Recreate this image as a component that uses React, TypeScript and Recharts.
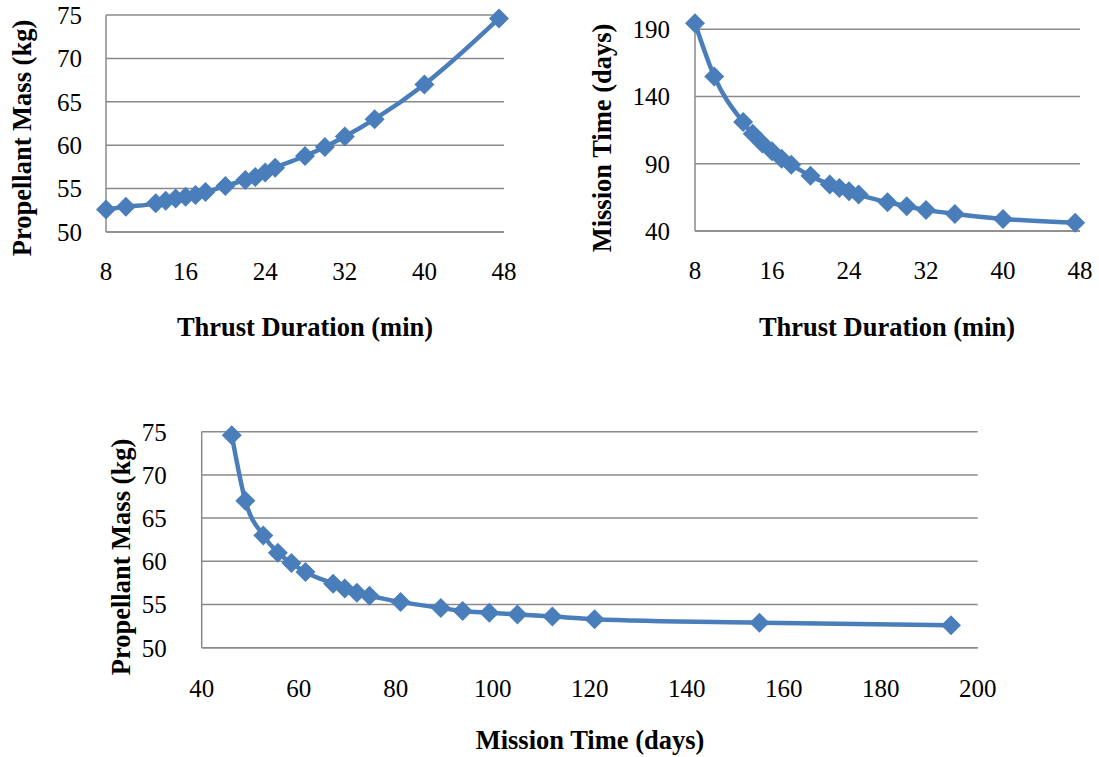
import { LineChart, Line, XAxis, YAxis, CartesianGrid } from 'recharts';

// values (thrust duration, propellant mass, mission time)
const thrustMin = [8, 10, 13, 14, 15, 16, 17, 18, 20, 22, 23, 24, 25, 28, 30, 32, 35, 40, 47.5];
const propellantKg = [
  52.6, 52.9, 53.3, 53.6, 53.85, 54.05, 54.25, 54.6, 55.3, 56.0, 56.35, 56.85, 57.4, 58.75,
  59.8, 61.0, 63.0, 67.0, 74.6,
];
const missionDays = [
  194.5, 155, 121, 112.3, 105.1, 99.3, 93.8, 89.3, 81, 74.6, 72, 69.5, 67.1, 61.4, 58.5, 55.7,
  52.7, 49, 46.2,
];

const thrustTicks = [8, 16, 24, 32, 40, 48];
const massTicks = [50, 55, 60, 65, 70, 75];
const daysTicksY = [40, 90, 140, 190];
const daysTicksX = [40, 60, 80, 100, 120, 140, 160, 180, 200];

const rows = thrustMin.map((t, i) => ({
  thrust: t,
  mass: propellantKg[i],
  days: missionDays[i],
}));
// mission time runs downwards as thrust grows, so sort for the third panel
const rowsByDays = [...rows].sort((a, b) => a.days - b.days);

const BLUE = '#4A7EBB';
const GRID = '#8a8a8a';
const FONT = '"Liberation Serif", "Times New Roman", serif';

function Diamond(props: any) {
  const { cx, cy, index } = props;
  if (cx == null || cy == null) return null;
  const r = 10;
  return (
    <path
      key={`dm-${index}`}
      d={`M${cx},${cy - r}L${cx + r},${cy}L${cx},${cy + r}L${cx - r},${cy}Z`}
      fill={BLUE}
    />
  );
}

interface PanelProps {
  data: any[];
  xKey: string;
  yKey: string;
  xDomain: [number, number];
  yDomain: [number, number];
  xTicks: number[];
  yTicks: number[];
  width: number;
  height: number;
  margin: { top: number; right: number; bottom: number; left: number };
  yAxisWidth: number;
  yTickGap: number;
  xTickGap: number;
}

function Panel(p: PanelProps) {
  const tick = { fill: '#000', fontSize: 25, fontFamily: FONT };
  const axisLine = { stroke: GRID, strokeWidth: 1.5 };
  return (
    <LineChart width={p.width} height={p.height} data={p.data} margin={p.margin}>
      <CartesianGrid vertical={false} syncWithTicks stroke={GRID} strokeWidth={1.5} />
      <XAxis
        type="number"
        dataKey={p.xKey}
        domain={p.xDomain}
        ticks={p.xTicks}
        interval={0}
        height={40}
        tickSize={0}
        tickMargin={p.xTickGap}
        tickLine={false}
        axisLine={axisLine}
        tick={tick}
      />
      <YAxis
        type="number"
        domain={p.yDomain}
        ticks={p.yTicks}
        interval={0}
        width={p.yAxisWidth}
        tickSize={0}
        tickMargin={p.yTickGap}
        tickLine={false}
        axisLine={axisLine}
        tick={tick}
      />
      <Line
        type="monotone"
        dataKey={p.yKey}
        stroke={BLUE}
        strokeWidth={4.5}
        dot={Diamond}
        activeDot={false}
        isAnimationActive={false}
      />
    </LineChart>
  );
}

const titleStyle = {
  position: 'absolute' as const,
  fontFamily: FONT,
  fontWeight: 'bold' as const,
  fontSize: 26.5,
  lineHeight: 1,
  whiteSpace: 'nowrap' as const,
  color: '#000',
};

function Title({ x, y, text, rotate }: { x: number; y: number; text: string; rotate?: boolean }) {
  return (
    <div
      style={{
        ...titleStyle,
        left: x,
        top: y,
        transform: `translate(-50%, -50%)${rotate ? ' rotate(-90deg)' : ''}`,
      }}
    >
      {text}
    </div>
  );
}

export default function App() {
  return (
    <div
      style={{
        position: 'absolute',
        left: 0,
        top: 0,
        width: 1099,
        height: 757,
        background: '#fff',
      }}
    >
      <div style={{ position: 'absolute', left: 0, top: 0 }}>
        <Panel
          data={rows}
          xKey="thrust"
          yKey="mass"
          xDomain={[8, 48]}
          yDomain={[50, 75]}
          xTicks={thrustTicks}
          yTicks={massTicks}
          width={520}
          height={300}
          margin={{ top: 15, right: 16, bottom: 28, left: 0 }}
          yAxisWidth={106}
          yTickGap={24}
          xTickGap={30}
        />
      </div>
      <div style={{ position: 'absolute', left: 580, top: 0 }}>
        <Panel
          data={rows}
          xKey="thrust"
          yKey="days"
          xDomain={[8, 48]}
          yDomain={[40, 195]}
          xTicks={thrustTicks}
          yTicks={daysTicksY}
          width={519}
          height={300}
          margin={{ top: 22.6, right: 19, bottom: 29, left: 0 }}
          yAxisWidth={115}
          yTickGap={25}
          xTickGap={30}
        />
      </div>
      <div style={{ position: 'absolute', left: 100, top: 400 }}>
        <Panel
          data={rowsByDays}
          xKey="days"
          yKey="mass"
          xDomain={[40, 200]}
          yDomain={[50, 75]}
          xTicks={daysTicksX}
          yTicks={massTicks}
          width={900}
          height={320}
          margin={{ top: 31.7, right: 22.3, bottom: 32.3, left: 0 }}
          yAxisWidth={101.7}
          yTickGap={35}
          xTickGap={32}
        />
      </div>

      <Title x={22} y={138} text="Propellant Mass (kg)" rotate />
      <Title x={305} y={327} text="Thrust Duration (min)" />
      <Title x={602} y={138} text="Mission Time (days)" rotate />
      <Title x={887} y={327} text="Thrust Duration (min)" />
      <Title x={121} y={557} text="Propellant Mass (kg)" rotate />
      <Title x={590} y={740} text="Mission Time (days)" />
    </div>
  );
}
